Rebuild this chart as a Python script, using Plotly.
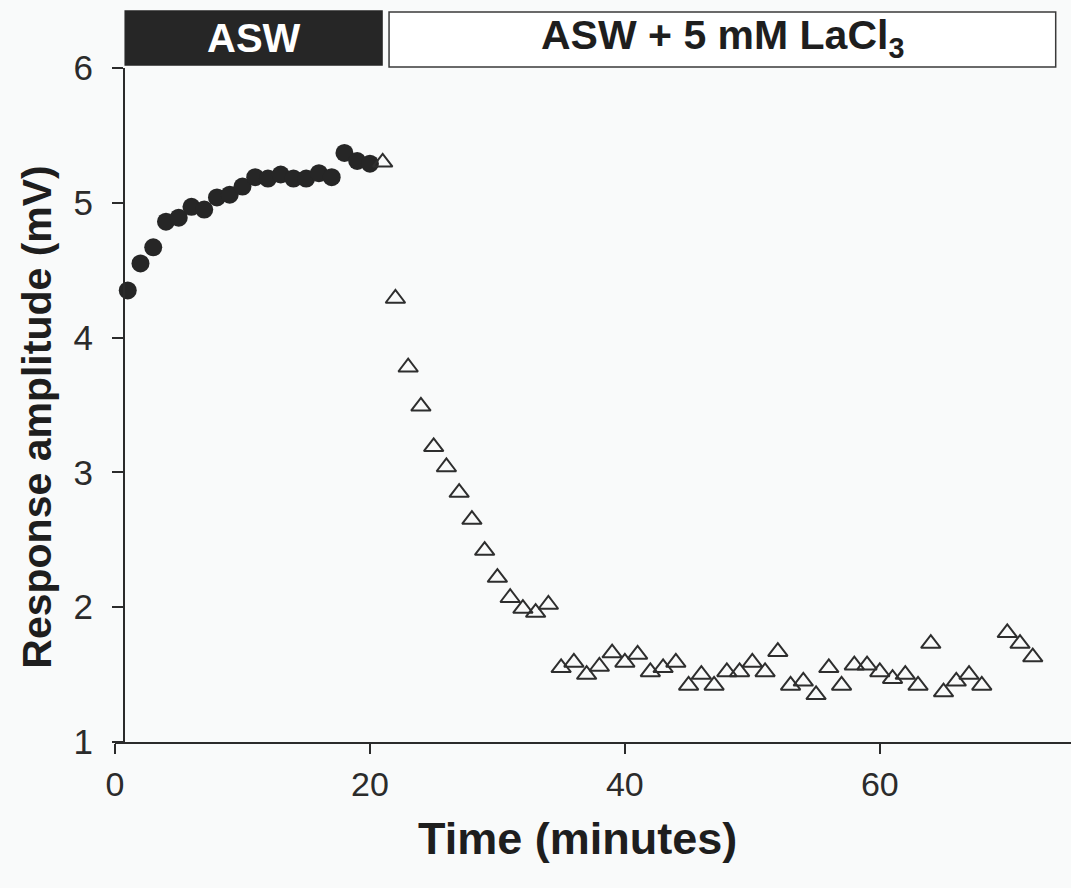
import plotly.graph_objects as go

# ---- data ----
asw_time = list(range(1, 21))
asw_amp = [4.35, 4.55, 4.67, 4.86, 4.89, 4.97, 4.95, 5.04, 5.06, 5.12,
           5.19, 5.18, 5.21, 5.18, 5.18, 5.22, 5.19, 5.37, 5.31, 5.29]

la_time = [21, 22, 23, 24, 25, 26, 27, 28, 29, 30, 31, 32, 33, 34,
           35, 36, 37, 38, 39, 40, 41, 42, 43, 44, 45, 46, 47, 48, 49, 50,
           51, 52, 53, 54, 55, 56, 57, 58, 59, 60, 61, 62, 63, 64, 65, 66,
           67, 68, 70, 71, 72]
la_amp = [5.30, 4.29, 3.78, 3.49, 3.19, 3.04, 2.85, 2.65, 2.42, 2.22, 2.07, 1.99, 1.96, 2.02,
          1.55, 1.59, 1.50, 1.56, 1.66, 1.59, 1.65, 1.52, 1.55, 1.59, 1.42, 1.50, 1.42, 1.52,
          1.52, 1.59, 1.52, 1.67, 1.42, 1.45, 1.35, 1.55, 1.42, 1.57, 1.57, 1.52, 1.47, 1.50,
          1.42, 1.73, 1.37, 1.45, 1.50, 1.42, 1.81, 1.73, 1.63]

x_ticks = [0, 20, 40, 60]
y_ticks = [1, 2, 3, 4, 5, 6]

# treatment periods (minutes)
asw_period = (0.8, 20.95)
la_period = (21.5, 73.8)

FONT = "Liberation Sans, Arial, sans-serif"
INK = "#2b2b2b"
BG = "#f9fafa"

fig = go.Figure()
fig.add_trace(go.Scatter(
    x=asw_time, y=asw_amp, mode="markers", cliponaxis=False,
    marker=dict(symbol="circle", size=18, color="#262626",
                line=dict(width=0)),
    showlegend=False))
fig.add_trace(go.Scatter(
    x=la_time, y=la_amp, mode="markers", cliponaxis=False,
    marker=dict(symbol="triangle-up-open", size=17, color="#2e2e2e",
                line=dict(width=2, color="#2e2e2e")),
    showlegend=False))

# treatment bars
fig.add_shape(type="rect", xref="x", yref="paper",
              x0=asw_period[0], x1=asw_period[1], y0=1.0045, y1=1.0846,
              fillcolor="#262626", line=dict(color="#262626", width=1.5))
fig.add_shape(type="rect", xref="x", yref="paper",
              x0=la_period[0], x1=la_period[1], y0=1.0015, y1=1.0830,
              fillcolor="white", line=dict(color="#3a3a3a", width=1.5))
fig.add_annotation(x=sum(asw_period) / 2, y=1.0445, xref="x", yref="paper",
                   text="<b>ASW</b>", showarrow=False,
                   font=dict(family=FONT, size=40, color="white"),
                   xanchor="center", yanchor="middle")
fig.add_annotation(x=sum(la_period) / 2, y=1.0445, xref="x", yref="paper",
                   text="<b>ASW + 5 mM LaCl<sub>3</sub></b>", showarrow=False,
                   font=dict(family=FONT, size=41, color="#1e1e1e"),
                   xanchor="center", yanchor="middle")

# axis titles
fig.add_annotation(x=0.484, y=-0.143, xref="paper", yref="paper",
                   text="<b>Time (minutes)</b>", showarrow=False,
                   font=dict(family=FONT, size=45, color="#1e1e1e"),
                   xanchor="center", yanchor="middle")
fig.add_annotation(x=-0.081, y=0.482, xref="paper", yref="paper",
                   text="<b>Response amplitude (mV)</b>", showarrow=False,
                   textangle=-90,
                   font=dict(family=FONT, size=41, color="#1e1e1e"),
                   xanchor="center", yanchor="middle")

fig.update_layout(
    width=1071, height=888,
    margin=dict(l=115, r=0, t=68, b=146),
    paper_bgcolor=BG, plot_bgcolor=BG,
    font=dict(family=FONT, color=INK),
    xaxis=dict(range=[0, 75], tickvals=x_ticks, ticks="outside", ticklen=10,
               tickwidth=2, tickcolor=INK, showline=True, linewidth=2,
               linecolor=INK, showgrid=False, zeroline=False,
               tickfont=dict(size=34, color=INK), ticklabelstandoff=1),
    yaxis=dict(range=[1, 6], tickvals=y_ticks, ticks="outside", ticklen=11,
               tickwidth=2, tickcolor=INK, showline=True, linewidth=2,
               linecolor=INK, showgrid=False, zeroline=False,
               anchor="free", position=0.0094,
               tickfont=dict(size=35, color=INK), ticklabelstandoff=12),
)

fig.write_html("out.html")
